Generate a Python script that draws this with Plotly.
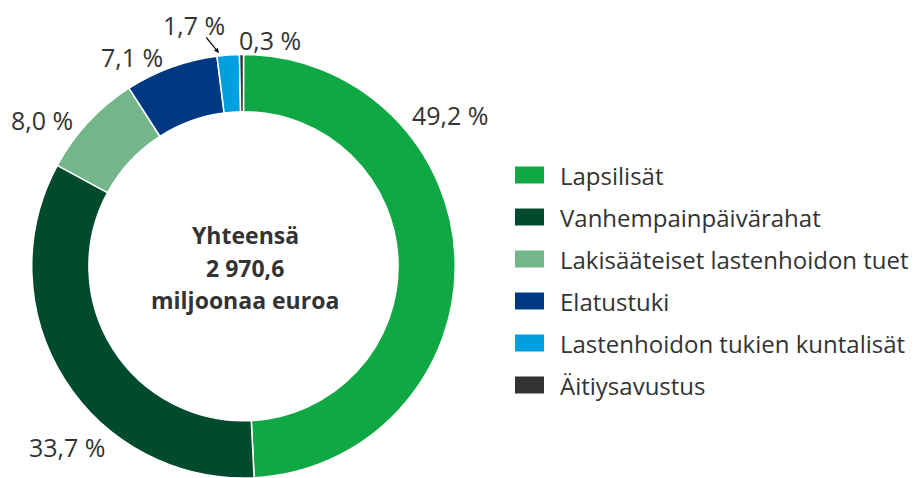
import plotly.graph_objects as go

categories = ["Lapsilisät", "Vanhempainpäivärahat", "Lakisääteiset lastenhoidon tuet",
              "Elatustuki", "Lastenhoidon tukien kuntalisät", "Äitiysavustus"]
shares = [49.2, 33.7, 8.0, 7.1, 1.7, 0.3]
total_text = ["Yhteensä", "2 970,6", "miljoonaa euroa"]

colors = ["#0FA844", "#004B2D", "#72B68A", "#003882", "#009FDF", "#333333"]
# label centres in window pixels (x, y from top)
label_pos = [(450, 115), (67, 447), (42, 120), (132, 57), (194, 25), (270, 40)]

OFF = 8  # default page body margin
W, H = 922 - 2 * OFF, 478 - OFF
FONT = "Open Sans"
TXT = "#333333"

def px(x, y):
    return (x - OFF) / W, 1 - (y - OFF) / H

fig = go.Figure()
cx, cy, r = 243.5 - OFF, 267.5 - OFF, 213.0
fig.add_trace(go.Pie(
    labels=categories, values=shares, sort=False, direction="clockwise", rotation=0,
    hole=0.73, marker=dict(colors=colors, line=dict(color="white", width=1.5)),
    textinfo="none", hoverinfo="label+percent", showlegend=False,
    domain=dict(x=[(cx - r) / W, (cx + r) / W], y=[max(0, (H - cy - r) / H), (H - cy + r) / H]),
))

ann = []
for v, (lx, ly) in zip(shares, label_pos):
    x, y = px(lx, ly)
    ann.append(dict(x=x, y=y, xref="paper", yref="paper", showarrow=False,
                    text=f"{v:.1f} %".replace(".", ","), xanchor="center", yanchor="middle",
                    font=dict(family=FONT, size=25, color=TXT)))
# arrow for small slice
hx, hy = px(219, 53)
ann.append(dict(x=hx, y=hy, xref="paper", yref="paper", text="", showarrow=True,
                ax=-14, ay=-17, arrowhead=2, arrowsize=0.8, arrowwidth=1.2, arrowcolor="#111111"))
# centre text
for i, t in enumerate(total_text):
    x, y = px(245, 235 + i * 32.5)
    ann.append(dict(x=x, y=y, xref="paper", yref="paper", showarrow=False, text=f"<b>{t}</b>",
                    xanchor="center", yanchor="middle", font=dict(family=FONT, size=23, color=TXT)))

# legend
shapes = []
for i, (c, name) in enumerate(zip(colors, categories)):
    ry = 175 + i * 42
    x0, y1 = px(515, ry - 8.5)
    x1, y0 = px(544, ry + 8.5)
    shapes.append(dict(type="rect", xref="paper", yref="paper", x0=x0, x1=x1, y0=y0, y1=y1,
                       fillcolor=c, line=dict(width=0)))
    tx, ty = px(558, ry)
    ann.append(dict(x=tx, y=ty, xref="paper", yref="paper", showarrow=False, text=name,
                    xanchor="left", yanchor="middle", font=dict(family=FONT, size=24, color=TXT)))

fig.update_layout(width=W, height=H, margin=dict(l=0, r=0, t=0, b=0),
                  paper_bgcolor="white", plot_bgcolor="white",
                  annotations=ann, shapes=shapes)
fig.write_html("out.html")
